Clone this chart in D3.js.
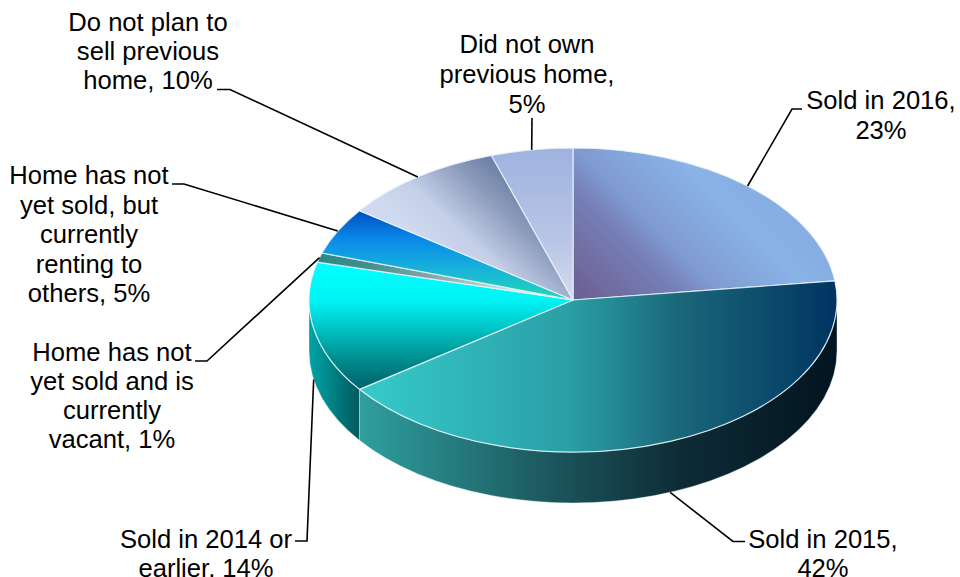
<!DOCTYPE html>
<html>
<head>
<meta charset="utf-8">
<script src="https://cdnjs.cloudflare.com/ajax/libs/d3/7.8.5/d3.min.js"></script>
<style>
  html, body { margin: 0; padding: 0; background: #fff; overflow: hidden; }
  text { font-family: "Liberation Sans", Arial, sans-serif; font-size: 25.6px; fill: #000; text-anchor: middle; }
</style>
</head>
<body>
<svg id="chart" width="960" height="577"></svg>
<script>
// Purchase status of the previous home, share of respondents in percent.
const categories = [
  "Sold in 2016",
  "Sold in 2015",
  "Sold in 2014 or earlier",
  "Home has not yet sold and is currently vacant",
  "Home has not yet sold, but currently renting to others",
  "Do not plan to sell previous home",
  "Did not own previous home"
];
const values = [23, 42, 14, 1, 5, 10, 5];

// Wrapped label text; the final fragment of each label is followed by its value.
const labelLines = [
  ["Sold in 2016,", ""],
  ["Sold in 2015,", ""],
  ["Sold in 2014 or", "earlier, "],
  ["Home has not", "yet sold and is", "currently", "vacant, "],
  ["Home has not", "yet sold, but", "currently", "renting to", "others, "],
  ["Do not plan to", "sell previous", "home, "],
  ["Did not own", "previous home,", ""]
];

// Label placement: centre x, baselines, and the elbow and tail of each leader line.
const labelLayout = [
  { x: 881, y: [109, 139], elbow: [792, 109], tail: [802, 109] },
  { x: 823, y: [548, 577], elbow: [733, 541.5], tail: [745, 541.5] },
  { x: 206, y: [548, 577], elbow: [307, 541], tail: [295, 541] },
  { x: 112, y: [361, 390, 419, 448], elbow: [207, 361], tail: [195, 361] },
  { x: 89, y: [184, 213.5, 243, 272.5, 302], elbow: [184, 184], tail: [172, 184] },
  { x: 148, y: [31, 60, 89], elbow: [230, 89.5], tail: [217, 89.5] },
  { x: 527, y: [53, 83, 113], elbow: null, tail: [532, 118] }
];

// Pie geometry: an ellipse for the tilted top face plus a vertical rim.
const cx = 573, cy = 300, rx = 264, ry = 152, depth = 51;
const EDGE = "rgba(232,244,250,0.85)";

const svg = d3.select("#chart");
const defs = svg.append("defs");

function gradient(id, coords, stops) {
  const g = defs.append("linearGradient")
    .attr("id", id)
    .attr("gradientUnits", "userSpaceOnUse")
    .attr("x1", coords[0]).attr("y1", coords[1])
    .attr("x2", coords[2]).attr("y2", coords[3]);
  stops.forEach(([o, c]) => g.append("stop").attr("offset", o).attr("stop-color", c));
  return `url(#${id})`;
}

const topFills = [
  gradient("t0", [580, 290, 710, 160], [[0, "#6d6297"], [0.37, "#7580b6"], [0.52, "#7f9ad0"], [0.9, "#8ab4e8"], [1, "#86aee2"]]),
  gradient("t1", [359, 0, 837, 0], [[0, "#36cbca"], [0.44, "#2a9fa6"], [0.67, "#1a6779"], [1, "#003461"]]),
  gradient("t2", [0, 262, 0, 390], [[0, "#00ffff"], [0.3, "#00f4f4"], [0.45, "#00d2d4"], [0.75, "#008f90"], [1, "#00606a"]]),
  gradient("t3", [322, 0, 573, 0], [[0, "#2c8886"], [0.18, "#3f8f8f"], [0.45, "#8aa8aa"], [0.72, "#c4dada"], [1, "#ffffff"]]),
  gradient("t4", [0, 211, 0, 298], [[0, "#0050c0"], [0.33, "#0a8aea"], [0.68, "#18b4d8"], [1, "#22d6b6"]]),
  gradient("t5", [515, 160, 430, 250], [[0, "#5d7399"], [0.35, "#8a9aba"], [0.72, "#c4cfe8"], [1, "#cfd9ef"]]),
  gradient("t6", [0, 150, 0, 300], [[0, "#9fb3df"], [0.6, "#b8c5e6"], [1, "#d6dbef"]])
];
const rimFills = {
  1: gradient("r1", [359, 0, 837, 0], [[0, "#2f9f9e"], [0.44, "#1a5058"], [0.67, "#0e2c36"], [1, "#02141f"]]),
  2: gradient("r2", [309, 0, 359, 0], [[0, "#00a4a7"], [1, "#005a5e"]])
};

// Angles run clockwise from twelve o'clock.
const arcs = d3.pie().sort(null).startAngle(0).endAngle(2 * Math.PI)(values);
const pt = (a, dy = 0) => [cx + rx * Math.sin(a), cy - ry * Math.cos(a) + dy];

function topPath(d) {
  const p0 = pt(d.startAngle), p1 = pt(d.endAngle);
  const large = d.endAngle - d.startAngle > Math.PI ? 1 : 0;
  return `M${cx},${cy}L${p0}A${rx},${ry} 0 ${large} 1 ${p1}Z`;
}

function rimPath(d) {
  const a0 = Math.max(d.startAngle, Math.PI / 2);
  const a1 = Math.min(d.endAngle, 3 * Math.PI / 2);
  if (a1 <= a0) return null;
  const p0 = pt(a0), p1 = pt(a1), q0 = pt(a0, depth), q1 = pt(a1, depth);
  return `M${p0}A${rx},${ry} 0 0 1 ${p1}L${q1}A${rx},${ry} 0 0 0 ${q0}Z`;
}

// Rim first, then the top faces over it.
svg.append("g").selectAll("path")
  .data(arcs.filter(d => rimPath(d)))
  .join("path")
  .attr("d", rimPath)
  .attr("fill", d => rimFills[d.index])
  .attr("stroke", EDGE)
  .attr("stroke-width", 0.5);

svg.append("g").selectAll("path")
  .data(arcs)
  .join("path")
  .attr("d", topPath)
  .attr("fill", (d, i) => topFills[i])
  .attr("stroke", EDGE)
  .attr("stroke-width", 1.2)
  .attr("stroke-linejoin", "round");

// Leader lines start at the middle of each slice's outer edge.
const leader = d3.line();
svg.append("g").selectAll("path")
  .data(arcs)
  .join("path")
  .attr("fill", "none")
  .attr("stroke", "#000")
  .attr("stroke-width", 1.6)
  .attr("d", d => {
    const mid = (d.startAngle + d.endAngle) / 2;
    const onFront = mid > Math.PI / 2 && mid < 3 * Math.PI / 2;
    const anchor = pt(mid, onFront ? depth : 0);
    const { elbow, tail } = labelLayout[d.index];
    return leader(elbow ? [anchor, elbow, tail] : [anchor, tail]);
  });

// Multi-line labels, one text element per line.
const labels = svg.append("g").selectAll("g")
  .data(categories)
  .join("g")
  .attr("aria-label", d => d);

labels.each(function (_, i) {
  const lines = labelLines[i];
  const lay = labelLayout[i];
  d3.select(this).selectAll("text")
    .data(lines)
    .join("text")
    .attr("x", lay.x)
    .attr("y", (_, j) => lay.y[j])
    .text((t, j) => j === lines.length - 1 ? `${t}${values[i]}%` : t);
});
</script>
</body>
</html>
